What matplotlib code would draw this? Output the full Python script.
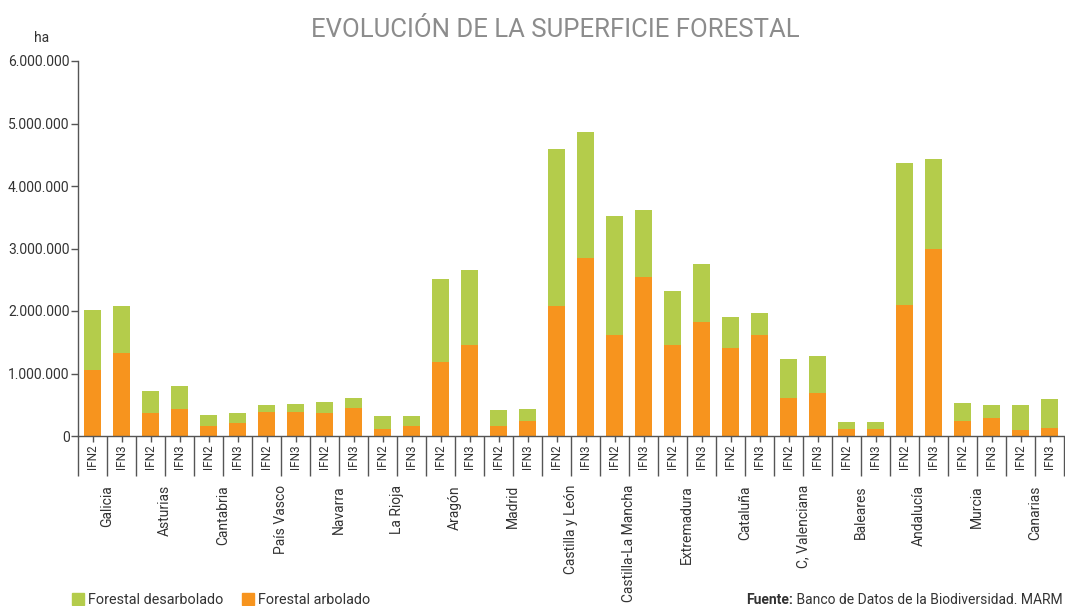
import matplotlib
matplotlib.use("Agg")
import matplotlib.pyplot as plt
from matplotlib.ticker import FuncFormatter, FixedLocator
from matplotlib.patches import Patch
import matplotlib.transforms as mtransforms
import numpy as np

plt.rcParams['font.family'] = ['Roboto', 'DejaVu Sans']

regions = ["Galicia", "Asturias", "Cantabria", "País Vasco", "Navarra", "La Rioja",
           "Aragón", "Madrid", "Castilla y León", "Castilla-La Mancha", "Extremadura",
           "Cataluña", "C, Valenciana", "Baleares", "Andalucía", "Murcia", "Canarias"]
inventories = ["IFN2", "IFN3"]

# hectares, pairs per region: IFN2, IFN3
arbolado = [1050000, 1330000, 373000, 427000, 165000, 203000, 389000, 389000,
            373000, 448000, 112000, 165000, 1184000, 1456000, 165000, 240000,
            2075000, 2848000, 1616000, 2549000, 1456000, 1829000, 1408000, 1616000,
            603000, 688000, 112000, 112000, 2091000, 2987000, 240000, 293000,
            101000, 133000]
total = [2010000, 2080000, 725000, 795000, 336000, 373000, 496000, 512000,
         549000, 603000, 320000, 320000, 2507000, 2651000, 410000, 440000,
         4587000, 4869000, 3520000, 3611000, 2315000, 2752000, 1899000, 1963000,
         1227000, 1280000, 219000, 219000, 4373000, 4432000, 528000, 496000,
         496000, 587000]
desarbolado = [t - a for t, a in zip(total, arbolado)]

green = "#b4cc4b"
orange = "#f7941e"
axis_col = "#555555"
text_col = "#333333"

fig = plt.figure(figsize=(10.65, 6.06), dpi=100)
ax = fig.add_axes([78 / 1065, 1 - 436 / 606, 986 / 1065, 375 / 606])

x = np.arange(len(arbolado))
ax.bar(x, arbolado, width=0.58, color=orange, zorder=2)
ax.bar(x, desarbolado, width=0.58, bottom=arbolado, color=green, zorder=2)

ax.set_xlim(-0.5, len(x) - 0.5)
ax.set_ylim(0, 6000000)
ax.set_yticks(np.arange(0, 6000001, 1000000))
ax.yaxis.set_major_formatter(FuncFormatter(lambda v, p: f"{int(v):,}".replace(",", ".")))

for s in ["top", "right"]:
    ax.spines[s].set_visible(False)
for s in ["left", "bottom"]:
    ax.spines[s].set_color(axis_col)
    ax.spines[s].set_linewidth(1.0)

ax.tick_params(axis="y", length=5, width=1, color=axis_col, labelsize=10,
               labelcolor=text_col, pad=1)

# bar ticks with IFN labels, long separators between bars
ax.set_xticks(x)
ax.set_xticklabels([inventories[i % 2] for i in x], rotation=90, fontsize=8.5,
                   color=text_col)
ax.tick_params(axis="x", which="major", length=4, width=1, color=axis_col, pad=2)
ax.xaxis.set_minor_locator(FixedLocator(np.arange(-0.5, len(x), 1.0)))
ax.tick_params(axis="x", which="minor", length=29, width=1, color=axis_col)

trans = mtransforms.blended_transform_factory(ax.transData, ax.transAxes)
for i, name in enumerate(regions):
    ax.text(2 * i + 0.5, -49 / 375, name, rotation=90, ha="center", va="top",
            fontsize=10, color=text_col, transform=trans)

fig.text(555 / 1065, 1 - 30 / 606, "EVOLUCIÓN DE LA SUPERFICIE FORESTAL", ha="center",
         va="center", fontsize=18.5, color="#8c8c8c")
fig.text(42 / 1065, 1 - 38 / 606, "ha", ha="center", va="center", fontsize=10,
         color=text_col)

handles = [Patch(color=green, label="Forestal desarbolado"),
           Patch(color=orange, label="Forestal arbolado")]
fig.legend(handles=handles, loc="center left", bbox_to_anchor=(72 / 1065, 1 - 600 / 606),
           ncol=2, frameon=False, fontsize=10.4, handlelength=0.8, handleheight=0.8,
           handletextpad=0.3, columnspacing=1.3, labelcolor=text_col,
           borderaxespad=0, borderpad=0)

src = fig.text(1063 / 1065, 1 - 600 / 606, " Banco de Datos de la Biodiversidad. MARM",
               ha="right", va="center", fontsize=10, color=text_col)
fig.canvas.draw()
bb = src.get_window_extent()
fig.text(bb.x0 / fig.bbox.width, 1 - 600 / 606, "Fuente:", ha="right", va="center",
         fontsize=10, fontweight="bold", color=text_col)

fig.savefig("out.png", dpi=100)
